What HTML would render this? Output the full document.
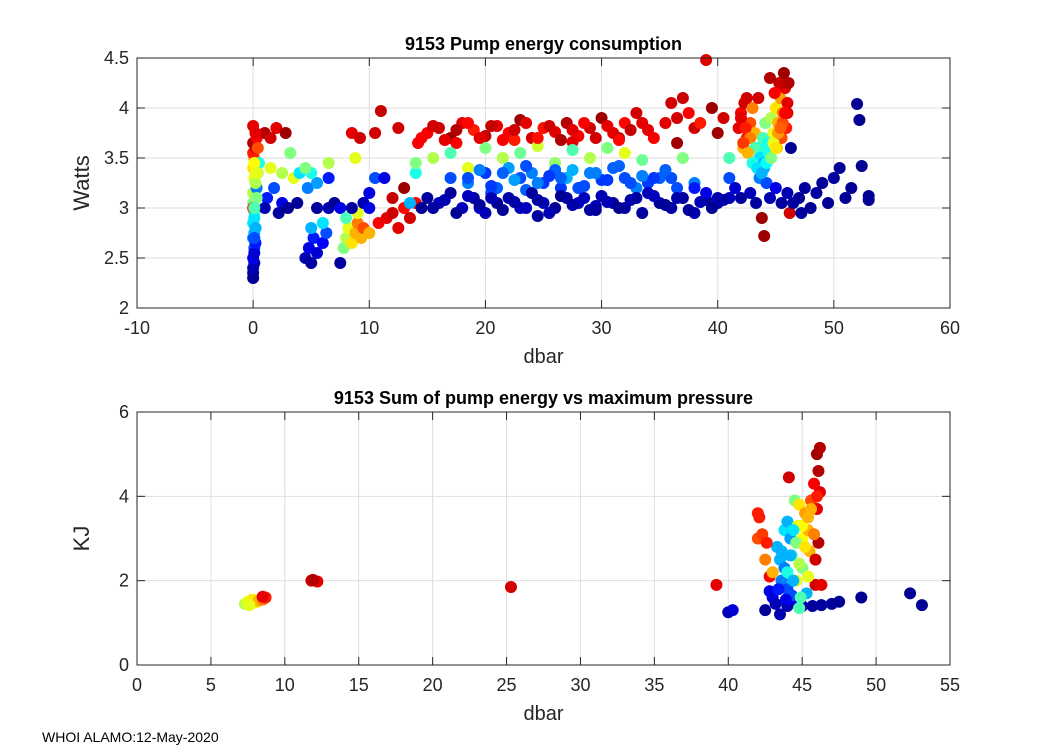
<!DOCTYPE html>
<html><head><meta charset="utf-8"><style>
body{margin:0;background:#fff;width:1050px;height:750px;overflow:hidden;font-family:"Liberation Sans",Arial,sans-serif}
svg text{font-family:"Liberation Sans",Arial,sans-serif;fill:#262626}
</style></head><body>
<svg id="fig" width="1050" height="750" xmlns="http://www.w3.org/2000/svg">
<rect width="1050" height="750" fill="#fff"/>
<text x="42" y="742" font-size="14" style="fill:#000">WHOI ALAMO:12-May-2020</text>
</svg>
<script>
// ===== Top chart data: pump energy (dbar, watts, colour index 0..1) =====
const topDbar=[0,0,0,0.1,0,0.1,0,0.1,0,0.1,0,0,0.1,0,0.1,0,0.2,0,0.3,0,0.5,0.4,0.2,0,0.3,
1,1.5,2,2.8,1.2,1.8,2.5,1,2.2,3,1.5,2.5,3.2,3.5,4,3.8,
4.5,4.8,5,5.2,5.5,6,6.3,5,6,5.5,6.5,4.7,5.5,6.5,5,4.5,6.5,7,7.5,7.5,
7.8,8,8.2,8.5,8.8,9,9.3,9.5,8,9,10,8.5,9.5,10,8.5,9.2,10.5,10.5,11,10,8.8,
10.8,11.5,12,12.5,13,13.5,14,12,11.3,13,13.5,12.5,14.2,14,14.5,
15,16,17,18,19,20,21,22,23,24,25,26,27,28,29,30,31,32,33,34,17.5,22.5,27.5,31.5,
14,15.5,17,18.5,20,21.5,23,24.5,26,27.5,29,30.5,32,33.5,
17,18.5,20,21,22,23,24,25,26,27,28,29,30,31,32,33,34,35,36.5,38,20.5,23.5,26.5,
15,16,17,18,19,20,21,22,23,24,25,26,27,28,29,30,31,32,33,34,35,36,37,38,39,40,41,19.5,24.5,29.5,
35.5,36.5,37.5,38,38.5,39,36,37,39.5,40.5,40,36.5,37,36,38,39,40,41,41,
41.8,42,42.3,42.5,42.8,43,42.2,42.6,43.2,43.5,43.8,44,43.6,44.2,43.9,44.3,44.5,44.1,44.6,44.8,45,45.2,45.4,45.6,45.1,45.5,45.8,45.3,45.7,46,45.9,44.9,44.5,43.5,42.5,42.8,43.3,43.8,44,44.5,45,45.5,46,46.3,46.2,42,41.5,
47,47.5,48,48.5,49,49.5,50,50.5,51,52,52.2,52.4,53,53,51.5,47.2,46.5,
15.5,16.5,17.5,18.5,19.5,20.5,21.5,22.5,23.5,24.5,25.5,26.5,27.5,28.5,29.5,30.5,31.5,32.5,33.5,34.5,35.5,36.5,37.5,38.5,39.5,40.5,
18.5,19.5,20.5,21.5,22.5,23.5,24.5,25.5,26.5,27.5,28.5,29.5,30.5,31.5,32.5,33.5,34.5,35.5,
14.5,15.5,16.5,17.5,18.5,19.5,20.5,21.5,22.5,23.5,24.5,25.5,26.5,27.5,28.5,29.5,30.5,31.5,32.5,33.5,34.5,
42,42.4,42.8,43.2,43.6,44,44.4,44.8,45.2,45.6,46,42.2,42.6,43,43.4,43.8,44.2,44.6,45,45.4,45.8,46.1,
0.1,0.2,0.1,0.3,0.2,0.1,0.4,0.2,0.1,0.3,0.2,0.1];
const topWatts=[2.3,2.35,2.4,2.45,2.5,2.6,2.7,2.75,2.85,2.95,3.05,3.15,3.3,3.4,3.5,3.55,3.6,3.65,3.7,3.82,3.45,3.35,2.8,3.0,3.2,
3.75,3.7,3.8,3.75,3.1,3.2,3.05,3.0,2.95,3.0,3.4,3.35,3.55,3.3,3.35,3.05,
2.5,2.6,2.45,2.7,2.55,2.65,2.75,2.8,2.85,3.0,3.0,3.2,3.25,3.3,3.35,3.4,3.45,3.05,2.45,3.0,
2.6,2.7,2.8,2.65,2.75,2.85,2.7,2.8,2.9,2.95,2.75,3.0,3.05,3.0,3.75,3.7,3.3,3.75,3.97,3.15,3.5,
2.85,2.9,2.95,2.8,3.0,2.9,3.05,3.1,3.3,3.2,3.05,3.8,3.65,3.35,3.0,
3.75,3.8,3.7,3.85,3.78,3.72,3.82,3.75,3.88,3.7,3.8,3.76,3.85,3.72,3.8,3.9,3.75,3.85,3.95,3.78,3.65,3.68,3.66,3.7,
3.45,3.5,3.55,3.4,3.6,3.5,3.55,3.62,3.45,3.58,3.5,3.6,3.55,3.48,
3.3,3.25,3.35,3.2,3.4,3.3,3.35,3.25,3.38,3.3,3.2,3.35,3.28,3.4,3.3,3.2,3.25,3.3,3.2,3.25,3.15,3.18,3.2,
3.1,3.05,3.15,3.0,3.1,2.95,3.05,3.1,3.0,3.15,3.05,3.0,3.1,3.05,2.98,3.12,3.05,3.0,3.1,3.15,3.05,3.0,3.1,2.95,3.08,3.05,3.1,3.0,2.92,3.02,
3.85,3.9,3.95,3.8,3.85,4.48,4.05,4.1,4.0,3.9,3.75,3.65,3.5,3.3,3.2,3.15,3.1,3.3,3.5,
3.8,3.95,4.05,3.7,3.85,4.0,3.6,3.55,3.75,3.6,3.5,3.4,3.3,3.25,3.7,3.65,3.55,3.85,3.9,3.75,4.0,3.85,4.1,3.95,3.6,3.7,4.2,4.25,4.35,4.05,3.8,4.15,4.3,4.1,4.1,3.15,3.05,2.9,2.72,3.1,3.2,3.05,3.15,3.6,2.95,3.1,3.2,
3.1,3.2,3.0,3.15,3.25,3.05,3.3,3.4,3.1,4.04,3.88,3.42,3.08,3.12,3.2,2.95,3.05,
3.0,3.08,2.95,3.12,3.03,3.1,2.98,3.06,3.0,3.08,2.95,3.12,3.03,3.1,2.98,3.06,3.0,3.08,2.95,3.12,3.03,3.1,2.98,3.06,3.0,3.08,
3.3,3.38,3.22,3.35,3.28,3.42,3.25,3.32,3.3,3.38,3.22,3.35,3.28,3.42,3.25,3.32,3.3,3.38,
3.7,3.82,3.68,3.78,3.85,3.7,3.82,3.68,3.78,3.85,3.7,3.82,3.68,3.78,3.85,3.7,3.82,3.68,3.78,3.85,3.7,
3.9,3.8,3.7,3.6,3.5,3.45,3.55,3.65,3.75,3.85,3.95,3.65,3.55,3.45,3.4,3.35,3.45,3.5,3.6,3.8,3.95,4.25,
2.55,2.65,2.9,3.1,3.25,3.45,3.6,3.75,3.0,3.35,2.8,2.7];
const topColor=[0.02,0.02,0.05,0.05,0.1,0.2,0.25,0.3,0.35,0.45,0.5,0.55,0.6,0.65,0.75,0.85,0.9,0.95,0.88,0.9,0.4,0.55,0.35,0.85,0.25,
0.95,0.92,0.9,0.97,0.15,0.2,0.1,0.05,0.03,0.02,0.6,0.55,0.5,0.6,0.35,0.02,
0.05,0.1,0.03,0.15,0.08,0.12,0.2,0.3,0.35,0.03,0.05,0.25,0.28,0.15,0.4,0.5,0.55,0.02,0.03,0.1,
0.5,0.55,0.6,0.65,0.7,0.75,0.7,0.8,0.45,0.6,0.7,0.03,0.05,0.1,0.9,0.92,0.2,0.92,0.93,0.1,0.6,
0.88,0.9,0.92,0.9,0.87,0.92,0.88,0.93,0.1,0.97,0.3,0.92,0.88,0.4,0.02,
0.88,0.92,0.97,0.9,0.85,0.93,0.9,0.88,0.97,0.92,0.86,0.9,0.95,0.88,0.92,0.97,0.9,0.87,0.92,0.9,0.88,0.85,0.9,0.93,
0.5,0.55,0.45,0.6,0.5,0.55,0.48,0.58,0.52,0.45,0.55,0.5,0.6,0.48,
0.2,0.25,0.18,0.22,0.28,0.2,0.25,0.18,0.22,0.3,0.2,0.25,0.18,0.22,0.2,0.25,0.18,0.22,0.2,0.25,0.2,0.22,0.18,
0.03,0.05,0.02,0.06,0.03,0.05,0.02,0.04,0.06,0.03,0.05,0.02,0.04,0.06,0.03,0.05,0.02,0.04,0.03,0.06,0.02,0.04,0.03,0.05,0.02,0.04,0.06,0.08,0.03,0.05,
0.9,0.92,0.88,0.92,0.85,0.9,0.92,0.93,0.97,0.92,0.97,0.97,0.5,0.2,0.15,0.1,0.05,0.2,0.45,
0.9,0.88,0.92,0.85,0.8,0.75,0.7,0.65,0.7,0.4,0.35,0.3,0.25,0.2,0.45,0.4,0.35,0.5,0.55,0.6,0.65,0.7,0.72,0.75,0.68,0.8,0.9,0.93,0.97,0.9,0.85,0.88,0.95,0.92,0.92,0.05,0.03,0.97,0.97,0.05,0.1,0.03,0.05,0.02,0.92,0.03,0.08,
0.02,0.03,0.02,0.03,0.02,0.02,0.03,0.02,0.02,0.02,0.02,0.02,0.02,0.02,0.02,0.03,0.03,
0.03,0.05,0.02,0.06,0.03,0.05,0.02,0.04,0.06,0.03,0.05,0.02,0.04,0.06,0.03,0.05,0.02,0.04,0.03,0.06,0.02,0.04,0.03,0.05,0.02,0.04,
0.2,0.25,0.18,0.22,0.28,0.2,0.25,0.18,0.22,0.3,0.2,0.25,0.18,0.22,0.2,0.25,0.18,0.22,
0.88,0.92,0.9,0.95,0.87,0.9,0.93,0.88,0.92,0.9,0.86,0.92,0.95,0.9,0.88,0.92,0.9,0.87,0.93,0.9,0.88,
0.9,0.85,0.75,0.45,0.35,0.3,0.4,0.6,0.72,0.8,0.9,0.82,0.7,0.4,0.35,0.3,0.38,0.5,0.65,0.78,0.88,0.95,
0.08,0.15,0.35,0.5,0.55,0.62,0.8,0.9,0.45,0.6,0.3,0.2];
const topXTicks=[-10,0,10,20,30,40,50,60];
const topYTicks=[2,2.5,3,3.5,4,4.5];

// ===== Bottom chart data: summed energy vs max pressure =====
const botDbar=[7.3,7.5,7.8,8,8.2,8.5,8.7,8.5,7.6,11.8,12.2,11.9,25.3,39.2,40,40.3,
42,42.1,42,42.3,42.5,42.8,43,43.3,43.5,43.6,43.8,44,44.2,44.3,44.5,44.1,44.8,44.7,45,45.2,45.4,45.5,45.6,45.8,46,46.2,46.1,46.2,46,46.1,45.9,46.3,45,44.6,44,43,42.5,43.2,44,44.5,45,45.3,44.8,45.7,46.3,47,47.5,49,52.3,53.1,43.5,42.8,44.3,
43.8,44.2,44.6,45,45.4,45.8,43.6,44,44.4,44.8,45.2,45.6,46,43.4,43.9,44.4,44.9,45.4,45.9,42.6];
const botKJ=[1.45,1.5,1.55,1.48,1.52,1.55,1.6,1.62,1.42,2.0,1.98,2.02,1.85,1.9,1.25,1.3,
3.6,3.5,3.0,3.1,2.5,2.1,2.2,2.8,2.5,2.0,3.2,3.4,3.0,2.6,3.9,4.45,3.8,3.3,3.0,3.6,3.2,2.7,3.9,4.3,5.0,5.15,4.6,4.1,3.7,2.9,1.9,1.9,2.3,2.0,1.8,1.6,1.3,1.45,1.4,1.55,1.4,1.7,1.35,1.4,1.42,1.45,1.5,1.6,1.7,1.42,1.2,1.75,1.65,
2.3,2.6,2.9,3.3,3.5,3.1,2.7,2.2,3.2,2.4,2.8,3.7,4.0,1.8,1.55,2.0,1.6,2.1,2.5,2.9];
const botColor=[0.55,0.6,0.65,0.6,0.7,0.75,0.85,0.9,0.6,0.92,0.9,0.95,0.92,0.9,0.05,0.08,
0.85,0.85,0.8,0.82,0.75,0.88,0.7,0.3,0.3,0.25,0.35,0.3,0.28,0.45,0.5,0.92,0.65,0.6,0.62,0.72,0.7,0.7,0.8,0.88,0.97,0.95,0.95,0.9,0.9,0.95,0.92,0.9,0.5,0.6,0.2,0.1,0.02,0.05,0.05,0.1,0.05,0.3,0.45,0.03,0.03,0.03,0.02,0.02,0.02,0.02,0.05,0.1,0.2,
0.25,0.3,0.5,0.62,0.7,0.75,0.3,0.4,0.35,0.55,0.65,0.7,0.85,0.15,0.1,0.3,0.45,0.6,0.92,0.85];
const botXTicks=[0,5,10,15,20,25,30,35,40,45,50,55];
const botYTicks=[0,2,4,6];

const NS="http://www.w3.org/2000/svg";
const svg=document.getElementById('fig');
function mk(tag,attrs,parent){const e=document.createElementNS(NS,tag);for(const k in attrs)e.setAttribute(k,attrs[k]);(parent||svg).appendChild(e);return e;}
function jet(v){const r=Math.min(4*v-1.5,-4*v+4.5),g=Math.min(4*v-0.5,-4*v+3.5),b=Math.min(4*v+0.5,-4*v+2.5);
const c=x=>Math.round(255*Math.max(0,Math.min(1,x)));return `rgb(${c(r)},${c(g)},${c(b)})`;}

function chart(o){
  const g=mk('g',{});
  
  
  const sx=v=>o.L+(v-o.x0)/(o.x1-o.x0)*(o.R-o.L);
  const sy=v=>o.B-(v-o.y0)/(o.y1-o.y0)*(o.B-o.T);
  mk('rect',{x:o.L,y:o.T,width:o.R-o.L,height:o.B-o.T,fill:'#fff'},g);
  o.xt.forEach(t=>{const x=sx(t);
    const l=mk('line',{x1:x,x2:x,y1:o.T,y2:o.B,stroke:'#dedede','stroke-width':1},g);
    
    mk('line',{x1:x,x2:x,y1:o.B,y2:o.B-8,stroke:'#262626'},g);
    mk('line',{x1:x,x2:x,y1:o.T,y2:o.T+8,stroke:'#262626'},g);
    const tx=mk('text',{x:x,y:o.B+26,'font-size':18,'text-anchor':'middle'},g);tx.textContent=t;
    });
  o.yt.forEach(t=>{const y=sy(t);
    const l=mk('line',{x1:o.L,x2:o.R,y1:y,y2:y,stroke:'#dedede','stroke-width':1},g);
    
    mk('line',{x1:o.L,x2:o.L+8,y1:y,y2:y,stroke:'#262626'},g);
    mk('line',{x1:o.R,x2:o.R-8,y1:y,y2:y,stroke:'#262626'},g);
    const tx=mk('text',{x:o.L-8,y:y+6,'font-size':18,'text-anchor':'end'},g);tx.textContent=t;
    });
  for(let i=0;i<o.xs.length;i++){
    const c=mk('circle',{cx:sx(o.xs[i]),cy:sy(o.ys[i]),r:6,fill:jet(o.cs[i])},g);
    
    
  }
  const box=mk('rect',{x:o.L,y:o.T,width:o.R-o.L,height:o.B-o.T,fill:'none',stroke:'#262626','stroke-width':1},g);
  
  const ti=mk('text',{x:(o.L+o.R)/2,y:o.T-8,'font-size':18,'font-weight':'bold','text-anchor':'middle',style:'fill:#000'},g);ti.textContent=o.title;
  
  const xl=mk('text',{x:(o.L+o.R)/2,y:o.B+55,'font-size':20,'text-anchor':'middle'},g);xl.textContent=o.xlab;
  
  const yy=(o.T+o.B)/2;
  const yl=mk('text',{x:o.L-48,y:yy,'font-size':22,'text-anchor':'middle',transform:`rotate(-90 ${o.L-48} ${yy})`},g);yl.textContent=o.ylab;
  
}
chart({name:'pump-energy-chart',L:137,R:950,T:58,B:308,x0:-10,x1:60,y0:2,y1:4.5,xt:topXTicks,yt:topYTicks,
  xs:topDbar,ys:topWatts,cs:topColor,title:'9153 Pump energy consumption',xlab:'dbar',ylab:'Watts'});
chart({name:'energy-sum-chart',L:137,R:950,T:412,B:665,x0:0,x1:55,y0:0,y1:6,xt:botXTicks,yt:botYTicks,
  xs:botDbar,ys:botKJ,cs:botColor,title:'9153 Sum of pump energy vs maximum pressure',xlab:'dbar',ylab:'KJ'});
</script>
</body></html>
